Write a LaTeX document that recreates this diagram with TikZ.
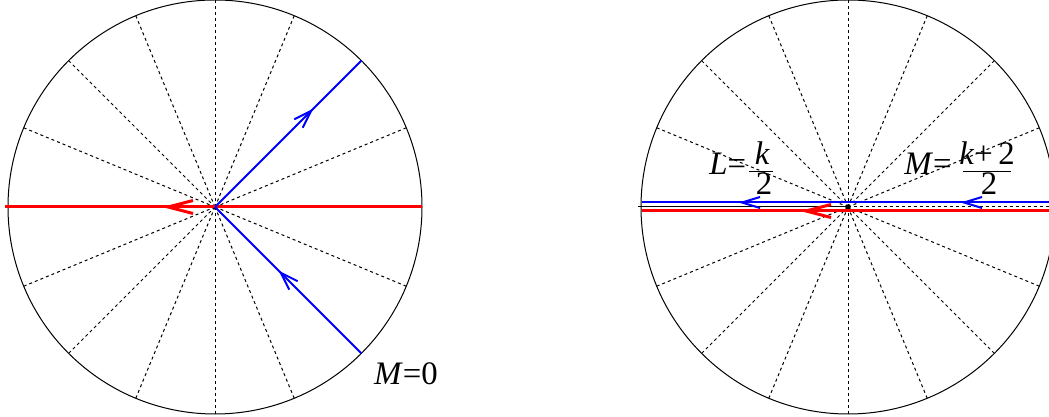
\documentclass[tikz,border=0pt]{standalone}
\usepackage{fontspec}
\setmainfont{Liberation Serif}
\usetikzlibrary{calc}
\begin{document}
\begin{tikzpicture}[x=0.5pt,y=0.5pt,
 circ/.style={black,line width=0.5pt},
 ray/.style={black,line width=0.5pt,dash pattern=on 1.5pt off 1.5pt},
 redline/.style={red,line width=1.5pt},
 blueline/.style={blue,line width=1pt},
 fracbar/.style={black,line width=0.5pt},
 pics/arrowbarb/.style args={#1/#2}{code={\draw[pic actions] (-#1,#2) -- (0,0) -- (-#1,-#2);}},
 lbl/.style={inner sep=0pt,font=\fontsize{16.4}{20}\selectfont}]
\useasboundingbox (0,0) rectangle (1049,417);
\clip (0,0) rectangle (1049,417);
\coordinate (A) at (215,210);
\coordinate (B) at (848,210);
% dashed rays
\foreach \a in {22.5,45,...,337.5} {
  \draw[ray] (A) -- ($(A)+(\a:207)$);
  \draw[ray] (B) -- ($(B)+(\a:207)$);
}
\draw[ray] ($(A)+(-210,0)$) -- ($(A)+(210,0)$);
\draw[ray] ($(B)+(-210,0)$) -- ($(B)+(210,0)$);
% circles
\draw[circ] (A) circle[radius=207];
\draw[circ] (B) circle[radius=207];
% left picture
\draw[redline] ($(A)+(-210,0)$) -- ($(A)+(207,0)$);
\pic[red,line width=1.5pt,rotate=180] at ($(A)+(-47,0)$) {arrowbarb={25/6.5}};
\draw[blueline] (A) -- ($(A)+(45:207)$);
\pic[blue,line width=1pt,rotate=45] at ($(A)+(45:136)$) {arrowbarb={18/6}};
\draw[blueline] (A) -- ($(A)+(-45:207)$);
\pic[blue,line width=1pt,rotate=135] at ($(A)+(-45:93)$) {arrowbarb={18/6}};
\node[lbl] (m0) at (406,43) {\textit{M}=0};
% right picture
\draw[blueline] ($(B)+(-206,4.5)$) -- ($(B)+(210,4.5)$);
\pic[blue,line width=1pt,rotate=180] at ($(B)+(-106,4.5)$) {arrowbarb={18/5.5}};
\pic[blue,line width=1pt,rotate=180] at ($(B)+(116,4.5)$) {arrowbarb={18/5.5}};
\draw[redline] ($(B)+(-206,-4)$) -- ($(B)+(210,-4)$);
\pic[red,line width=1.5pt,rotate=180] at ($(B)+(-42,-4)$) {arrowbarb={25/6.5}};
% label L = k/2
\node[lbl,anchor=base west] (lL) at (709,242) {\textit{L}=};
\node[lbl,anchor=base] (lnum) at (762.5,252) {\textit{k}};
\coordinate (lb1) at (749,245);
\coordinate (lb2) at (773,245);
\draw[fracbar] (lb1) -- (lb2);
\node[lbl,anchor=base] (lden) at (764,222) {2};
% label M = (k+2)/2
\node[lbl,anchor=base west] (mM) at (904,242) {\textit{M}=};
\node[lbl,anchor=base] (mnum) at (987,252) {\textit{k}+\,2};
\coordinate (mb1) at (963,245);
\coordinate (mb2) at (1011,245);
\draw[fracbar] (mb1) -- (mb2);
\node[lbl,anchor=base] (mden) at (989,222) {2};
\end{tikzpicture}
\end{document}
